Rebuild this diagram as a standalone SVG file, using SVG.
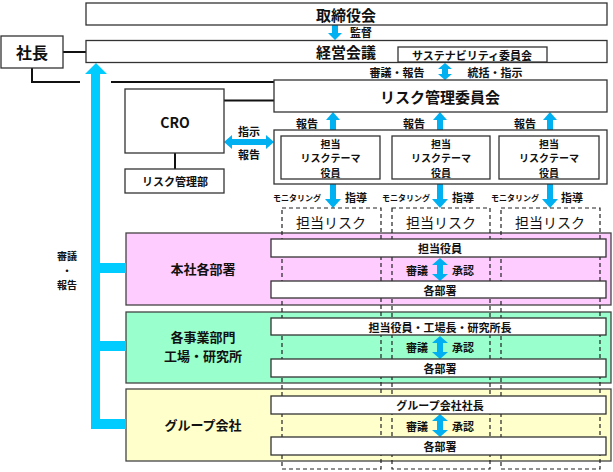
<svg xmlns="http://www.w3.org/2000/svg" width="613" height="472" viewBox="0 0 613 472">
<style>
.b{fill:#fff;stroke:#333;stroke-width:1.3}
.t{font-family:"Noto Sans CJK JP","Noto Sans",sans-serif;font-weight:bold;fill:#111;text-anchor:middle;dominant-baseline:central}
.l{font-size:15px}
.r{font-size:14px;font-weight:normal}
.m{font-size:11px}
.n{font-size:10px}
.s{font-size:8px}
.ln{stroke:#111;stroke-width:2;fill:none}
.d{fill:none;stroke:#222;stroke-width:1.2;stroke-dasharray:4,3}
.ar{fill:#00B0F0}
.big{fill:#00CCFF}
</style>
<g id="colored-boxes">
<rect id="honsha" x="126" y="233" width="485" height="72" fill="#FFCCFF" stroke="#444" stroke-width="1.3"/>
<rect id="jigyo" x="126" y="312" width="485" height="71" fill="#99FFCC" stroke="#444" stroke-width="1.3"/>
<rect id="group" x="126" y="389" width="485" height="72" fill="#FFFFCC" stroke="#444" stroke-width="1.3"/>
</g>
<g id="connectors">
<line class="ln" x1="63" y1="52" x2="86" y2="52"/>
<polyline class="ln" points="32,68 32,82 80,82"/>
<line class="ln" x1="111" y1="82" x2="274" y2="82"/>
<line class="ln" x1="224" y1="100.5" x2="274" y2="100.5"/>
<line class="ln" x1="175" y1="153" x2="175" y2="169"/>
<path class="big" d="M96,63 L107,74 L100,74 L100,263 L126,263 L126,273 L100,273 L100,341 L126,341 L126,351 L100,351 L100,419 L126,419 L126,429 L91,429 L91,74 L85,74 Z"/>
<path class="ar" d="M332,25 L338,25 L338,33 L342,33 L335,40 L328,33 L332,33 Z"/>
<path class="ar" d="M445,63 L452,69 L448,69 L448,74 L452,74 L445,80 L438,74 L442,74 L442,69 L438,69 Z"/>
<path class="ar" d="M224,142 L232,135 L232,139 L266,139 L266,135 L274,142 L266,149 L266,145 L232,145 L232,149 Z"/>
<path class="ar" d="M333,112 L340,120 L336,120 L336,130 L330,130 L330,120 L326,120 Z"/>
<path class="ar" d="M440,112 L447,120 L443,120 L443,130 L437,130 L437,120 L433,120 Z"/>
<path class="ar" d="M550,112 L557,120 L553,120 L553,130 L547,130 L547,120 L543,120 Z"/>
<path class="ar" d="M330,184 L336,184 L336,199 L341,199 L333,208 L325,199 L330,199 Z"/>
<path class="ar" d="M437,184 L443,184 L443,199 L448,199 L440,208 L432,199 L437,199 Z"/>
<path class="ar" d="M547,184 L553,184 L553,199 L558,199 L550,208 L542,199 L547,199 Z"/>
<path class="ar" d="M440,258 L448,265 L443,265 L443,274 L448,274 L440,281 L432,274 L437,274 L437,265 L432,265 Z"/>
<path class="ar" d="M440,336 L448,343 L443,343 L443,352 L448,352 L440,359 L432,352 L437,352 L437,343 L432,343 Z"/>
<path class="ar" d="M440,414 L448,421 L443,421 L443,430 L448,430 L440,437 L432,430 L437,430 L437,421 L432,421 Z"/>
</g>
<g id="dashed-risks">
<g id="risk1"><rect class="d" x="282" y="208" width="99" height="261"/><text class="t r" x="331" y="222">担当リスク</text></g>
<g id="risk2"><rect class="d" x="392" y="208" width="98" height="261"/><text class="t r" x="441" y="222">担当リスク</text></g>
<g id="risk3"><rect class="d" x="501" y="208" width="99" height="261"/><text class="t r" x="550" y="222">担当リスク</text></g>
</g>
<g id="torishimariyakukai"><rect class="b" x="86" y="3" width="521" height="22"/><text class="t l" x="346" y="14">取締役会</text></g>
<g id="shacho"><rect class="b" x="1" y="36" width="62" height="32"/><text class="t" style="font-size:16px" x="32" y="52">社長</text></g>
<g id="keiei"><rect class="b" x="86" y="40.5" width="521" height="22"/><text class="t l" x="346" y="51">経営会議</text></g>
<g id="sustainability"><rect class="b" x="398" y="47" width="149" height="15"/><text class="t m" x="472" y="54.5">サステナビリティ委員会</text></g>
<g id="risk-committee"><rect class="b" x="274" y="80" width="333" height="32"/><text class="t l" x="440" y="96">リスク管理委員会</text></g>
<g id="cro"><rect class="b" x="125" y="89" width="99" height="64"/><text class="t" style="font-size:14px" x="175" y="122">CRO</text></g>
<g id="risk-dept"><rect class="b" x="125" y="169" width="99" height="24"/><text class="t m" x="175" y="181">リスク管理部</text></g>
<g id="officers"><rect class="b" x="274" y="130" width="333" height="54"/>
<g id="officer1"><rect class="b" x="281" y="136" width="99" height="43"/><text class="t n"><tspan x="330.5" y="142.5">担当</tspan><tspan x="330.5" y="157">リスクテーマ</tspan><tspan x="330.5" y="171.5">役員</tspan></text></g>
<g id="officer2"><rect class="b" x="392" y="136" width="98" height="43"/><text class="t n"><tspan x="441" y="142.5">担当</tspan><tspan x="441" y="157">リスクテーマ</tspan><tspan x="441" y="171.5">役員</tspan></text></g>
<g id="officer3"><rect class="b" x="499" y="136" width="100" height="43"/><text class="t n"><tspan x="549" y="142.5">担当</tspan><tspan x="549" y="157">リスクテーマ</tspan><tspan x="549" y="171.5">役員</tspan></text></g>
</g>
<g id="bars">
<g id="honsha-top"><rect class="b" x="271" y="239" width="335" height="18"/><text class="t m" x="440" y="248">担当役員</text></g>
<g id="honsha-bottom"><rect class="b" x="271" y="281" width="335" height="17"/><text class="t m" x="440" y="289.5">各部署</text></g>
<g id="jigyo-top"><rect class="b" x="271" y="318" width="335" height="17"/><text class="t m" x="440" y="326.5">担当役員・工場長・研究所長</text></g>
<g id="jigyo-bottom"><rect class="b" x="271" y="359" width="335" height="18"/><text class="t m" x="440" y="368">各部署</text></g>
<g id="group-top"><rect class="b" x="271" y="396" width="335" height="18"/><text class="t m" x="440" y="405">グループ会社社長</text></g>
<g id="group-bottom"><rect class="b" x="271" y="437" width="335" height="18"/><text class="t m" x="440" y="446">各部署</text></g>
</g>
<g id="labels">
<text class="t m" x="361" y="32">監督</text>
<text class="t m" x="397" y="72">審議・報告</text>
<text class="t m" x="495" y="72">統括・指示</text>
<text class="t m" x="249" y="131">指示</text>
<text class="t m" x="249" y="154">報告</text>
<text class="t m" x="307" y="123">報告</text>
<text class="t m" x="414" y="123">報告</text>
<text class="t m" x="525" y="123">報告</text>
<text class="t s" x="297" y="197">モニタリング</text>
<text class="t m" x="356" y="197">指導</text>
<text class="t s" x="406" y="197">モニタリング</text>
<text class="t m" x="463" y="197">指導</text>
<text class="t s" x="515" y="197">モニタリング</text>
<text class="t m" x="572" y="197">指導</text>
<text class="t m" x="417" y="270">審議</text>
<text class="t m" x="463" y="270">承認</text>
<text class="t m" x="417" y="347">審議</text>
<text class="t m" x="463" y="347">承認</text>
<text class="t m" x="417" y="426">審議</text>
<text class="t m" x="463" y="426">承認</text>
<text class="t n"><tspan x="67" y="255">審議</tspan><tspan x="67" y="269.5">・</tspan><tspan x="67" y="284">報告</tspan></text>
<text class="t" style="font-size:13px" x="203" y="268">本社各部署</text>
<text class="t" style="font-size:13px"><tspan x="203" y="335.5">各事業部門</tspan><tspan x="203" y="354.5">工場・研究所</tspan></text>
<text class="t" style="font-size:13px" x="203" y="424">グループ会社</text>
</g>
</svg>
